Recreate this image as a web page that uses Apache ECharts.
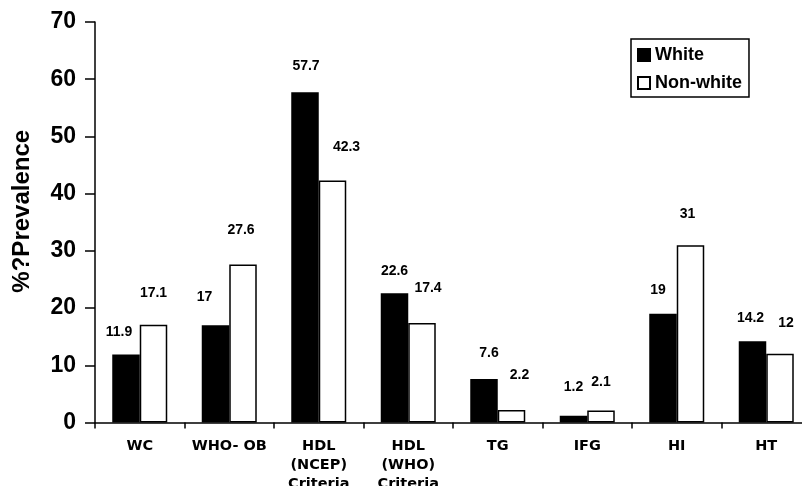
<!DOCTYPE html>
<html>
<head>
<meta charset="utf-8">
<script src="https://cdn.jsdelivr.net/npm/echarts@6/dist/echarts.min.js"></script>
<style>
html,body{margin:0;padding:0;background:#fff;}
#chart{width:802px;height:486px;}
</style>
</head>
<body>
<div id="chart"></div>
<script>
var categories = ['WC', 'WHO- OB', 'HDL\n(NCEP)\nCriteria', 'HDL\n(WHO)\nCriteria', 'TG', 'IFG', 'HI', 'HT'];
var whiteValues = [11.9, 17, 57.7, 22.6, 7.6, 1.2, 19, 14.2];
var nonWhiteValues = [17.1, 27.6, 42.3, 17.4, 2.2, 2.1, 31, 12];
var yTicks = [0, 10, 20, 30, 40, 50, 60, 70];

// label nudges (style only)
var whiteLabelDx = [-7, -11, 1, 0, 5, 0, -5, -2];
var whiteLabelDy = [-15, -21, -19, -15, -19, -21, -17, -16];
var nonWhiteLabelDx = [0, -2, 14, 6, 8, 0, -3, 6];
var nonWhiteLabelDy = [-25, -27, -26, -28, -28, -21, -24, -24];

function buildData(values, dx, dy) {
  return values.map(function (v, i) {
    return { value: v, label: { offset: [dx[i], dy[i]] } };
  });
}

var labelStyle = {
  show: true, position: 'top', distance: 0,
  fontFamily: 'Liberation Sans, Arial, sans-serif', fontWeight: 'bold', fontSize: 14, color: '#000'
};

var chart = echarts.init(document.getElementById('chart'), null, { renderer: 'canvas' });
chart.setOption({
  animation: false,
  backgroundColor: '#fff',
  grid: { left: 95, right: -9, top: 22, bottom: 63.5, containLabel: false, outerBoundsMode: 'none' },
  legend: {
    orient: 'vertical', left: 631, top: 39,
    data: ['White', 'Non-white'],
    borderColor: '#000', borderWidth: 1.5, borderRadius: 0,
    padding: [7, 7, 5, 6], itemGap: 10, itemWidth: 12, itemHeight: 12,
    icon: 'rect',
    textStyle: { fontFamily: 'Liberation Sans, Arial, sans-serif', fontWeight: 'bold', fontSize: 18, color: '#000' }
  },
  xAxis: {
    type: 'category', data: categories,
    axisLine: { lineStyle: { color: '#000', width: 1.5 } },
    axisTick: { show: true, inside: false, length: 6, alignWithLabel: false, lineStyle: { color: '#000', width: 1.5 } },
    axisLabel: { interval: 0, margin: 14, color: '#000', fontFamily: 'DejaVu Sans, Verdana, sans-serif', fontWeight: 'bold', fontSize: 14.5, lineHeight: 19 }
  },
  yAxis: {
    type: 'value', min: yTicks[0], max: yTicks[yTicks.length - 1], interval: 10,
    name: '%?Prevalence', nameLocation: 'middle', nameGap: 61, nameRotate: 90,
    nameTextStyle: { fontFamily: 'Liberation Sans, Arial, sans-serif', fontWeight: 'bold', fontSize: 24, color: '#000', padding: [0, 0, 0, 22] },
    splitLine: { show: false },
    axisLine: { show: true, lineStyle: { color: '#000', width: 1.5 } },
    axisTick: { show: true, inside: false, length: 10, lineStyle: { color: '#000', width: 1.5 } },
    axisLabel: { margin: 19, color: '#000', fontFamily: 'Liberation Sans, Arial, sans-serif', fontWeight: 'bold', fontSize: 23 }
  },
  series: [
    {
      name: 'White', type: 'bar', barWidth: 27.5, barGap: '0%',
      data: buildData(whiteValues, whiteLabelDx, whiteLabelDy),
      itemStyle: { color: '#000', borderColor: '#000', borderWidth: 1.5 },
      label: labelStyle
    },
    {
      name: 'Non-white', type: 'bar', barWidth: 27.5, barGap: '0%',
      data: buildData(nonWhiteValues, nonWhiteLabelDx, nonWhiteLabelDy),
      itemStyle: { color: '#fff', borderColor: '#000', borderWidth: 1.5 },
      label: labelStyle
    }
  ]
});
</script>
</body>
</html>
